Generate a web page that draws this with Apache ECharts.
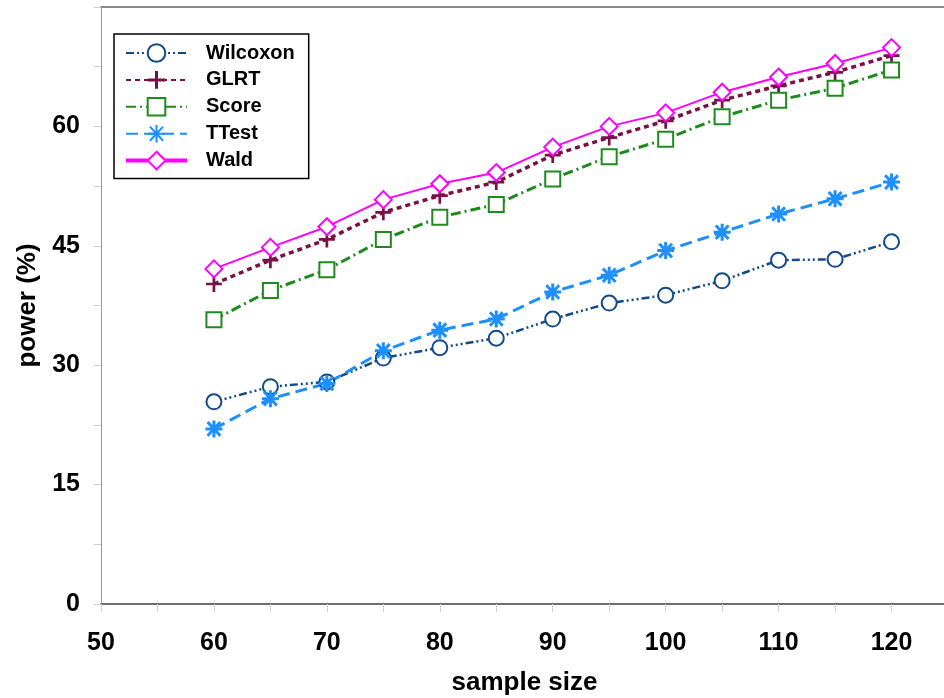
<!DOCTYPE html>
<html>
<head>
<meta charset="utf-8">
<script src="https://cdn.jsdelivr.net/npm/echarts@6/dist/echarts.min.js"></script>
<style>html,body{margin:0;padding:0;background:#fff;}#c{width:944px;height:698px;}</style>
</head>
<body>
<div id="c"></div>
<script>
const sampleSizes = [60, 65, 70, 75, 80, 85, 90, 95, 100, 105, 110, 115, 120];
const wilcoxon = [25.4, 27.3, 27.9, 30.9, 32.2, 33.4, 35.8, 37.8, 38.8, 40.6, 43.2, 43.3, 45.5];
const glrt     = [40.2, 43.2, 45.8, 49.2, 51.3, 53.0, 56.4, 58.6, 60.7, 63.3, 65.1, 66.8, 68.9];
const score    = [35.7, 39.4, 42.0, 45.8, 48.6, 50.2, 53.4, 56.2, 58.4, 61.2, 63.3, 64.8, 67.1];
const ttest    = [22.0, 25.8, 27.7, 31.8, 34.4, 35.8, 39.2, 41.3, 44.4, 46.7, 49.0, 50.9, 53.0];
const wald     = [42.1, 44.8, 47.4, 50.8, 52.8, 54.2, 57.4, 60.0, 61.7, 64.3, 66.2, 67.9, 69.9];
const seriesNames = ['Wilcoxon', 'GLRT', 'Score', 'TTest', 'Wald'];

const FONT = '"Liberation Sans", Arial, sans-serif';
const pairs = arr => sampleSizes.map((x, i) => [x, arr[i]]);

const plusPath = 'path://M-0.17,-1 L0.17,-1 L0.17,-0.17 L1,-0.17 L1,0.17 L0.17,0.17 L0.17,1 L-0.17,1 L-0.17,0.17 L-1,0.17 L-1,-0.17 L-0.17,-0.17 Z';
const starPath = 'path://M0,-1 L0,1 M-1,0 L1,0 M-0.75,-0.8 L0.75,0.8 M0.75,-0.8 L-0.75,0.8';

const chart = echarts.init(document.getElementById('c'), null, {renderer: 'canvas'});
chart.setOption({
  animation: false,
  backgroundColor: '#fff',
  grid: {left: 101, top: 7, right: -4, bottom: 94, containLabel: false, outerBoundsMode: 'none'},
  legend: {
    orient: 'vertical',
    left: 114, top: 34,
    padding: [9, 14, 8, 10],
    borderColor: '#000', borderWidth: 1.5,
    itemWidth: 61, itemHeight: 22, itemGap: 6.9,
    textStyle: {fontFamily: FONT, fontSize: 20, fontWeight: 'bold', color: '#000', padding: [0, 0, 0, 14]},
    data: [
      {name: 'Wilcoxon'}, {name: 'GLRT'}, {name: 'Score'}, {name: 'TTest'},
      {name: 'Wald', lineStyle: {width: 4}}
    ]
  },
  xAxis: [{
    type: 'value', min: 50, max: 125, interval: 5,
    name: 'sample size', nameLocation: 'middle', nameGap: 66,
    nameTextStyle: {fontFamily: FONT, fontSize: 26, fontWeight: 'bold', color: '#000'},
    axisLine: {show: true, lineStyle: {color: '#6e6e6e', width: 2}},
    axisTick: {show: true, length: 8, lineStyle: {color: '#cfcfcf', width: 1}},
    axisLabel: {
      margin: 27, fontFamily: FONT, fontSize: 25, fontWeight: 'bold', color: '#000',
      formatter: v => (Math.round(v) % 10 === 0 && v <= 120) ? String(Math.round(v)) : ''
    },
    splitLine: {show: false}
  }, {
    type: 'value', position: 'top', min: 50, max: 125,
    axisLine: {show: true, lineStyle: {color: '#8a8a8a', width: 2}},
    axisTick: {show: false}, axisLabel: {show: false}, splitLine: {show: false}
  }],
  yAxis: {
    type: 'value', min: 0, max: 75, interval: 7.5,
    name: 'power (%)', nameLocation: 'middle', nameGap: 58,
    nameTextStyle: {fontFamily: FONT, fontSize: 26, fontWeight: 'bold', color: '#000'},
    axisLine: {show: true, lineStyle: {color: '#9a9a9a', width: 1}},
    axisTick: {show: true, length: 7, lineStyle: {color: '#cfcfcf', width: 1}},
    axisLabel: {
      margin: 21, fontFamily: FONT, fontSize: 25, fontWeight: 'bold', color: '#000',
      formatter: v => (Math.abs(v / 15 - Math.round(v / 15)) < 1e-6 && v < 74) ? String(Math.round(v)) : ''
    },
    splitLine: {show: false}
  },
  series: [
    {
      name: 'Wilcoxon', type: 'line', data: pairs(wilcoxon),
      symbol: 'circle', symbolSize: 15,
      itemStyle: {color: '#ffffff', borderColor: '#134a8a', borderWidth: 2},
      lineStyle: {color: '#134a8a', width: 2.5, type: [8, 3, 2, 3, 2, 3, 2, 3]}
    },
    {
      name: 'GLRT', type: 'line', data: pairs(glrt),
      symbol: plusPath, symbolSize: 16,
      itemStyle: {color: '#7a1045', borderWidth: 0},
      lineStyle: {color: '#7a1045', width: 3.5, type: [5, 4]}
    },
    {
      name: 'Score', type: 'line', data: pairs(score),
      symbol: 'rect', symbolSize: 15,
      itemStyle: {color: '#ffffff', borderColor: '#1f8a1f', borderWidth: 2},
      lineStyle: {color: '#1f8a1f', width: 3, type: [10, 4, 2, 4]}
    },
    {
      name: 'TTest', type: 'line', data: pairs(ttest),
      symbol: starPath, symbolSize: 17,
      itemStyle: {color: '#1e8fff', borderColor: '#1e8fff', borderWidth: 3},
      lineStyle: {color: '#1e8fff', width: 3, type: [12, 6]}
    },
    {
      name: 'Wald', type: 'line', data: pairs(wald),
      symbol: 'diamond', symbolSize: 17,
      itemStyle: {color: '#ffffff', borderColor: '#ff00ff', borderWidth: 2},
      lineStyle: {color: '#ff00ff', width: 2, type: 'solid'}
    }
  ]
});
</script>
</body>
</html>
